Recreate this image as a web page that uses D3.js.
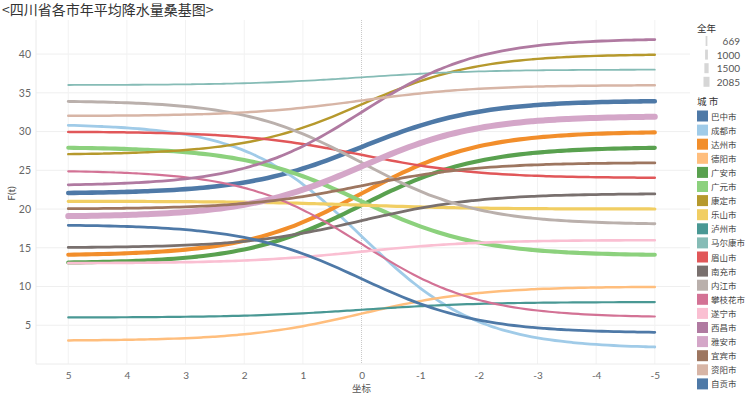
<!DOCTYPE html>
<html>
<head>
<meta charset="utf-8">
<script src="https://cdn.jsdelivr.net/npm/d3@7"></script>
<style>
  body { margin: 0; background: #fff; }
  svg { font-family: "Noto Sans CJK SC", "Noto Sans", sans-serif; }
</style>
</head>
<body>
<div id="chart"></div>
<script>
// DATA
const cities = ["巴中市","成都市","达州市","德阳市","广安市","广元市","康定市","乐山市","泸州市","马尔康市",
  "眉山市","南充市","内江市","攀枝花市","遂宁市","西昌市","雅安市","宜宾市","资阳市","自贡市"]
const startValue = [22, 31, 14, 3, 13, 28, 27, 21, 6, 36, 30, 15, 34, 25, 13, 23, 19, 20, 32, 18]
const endValue   = [34, 2, 30, 10, 28, 14, 40, 20, 8, 38, 24, 22, 18, 6, 16, 42, 32, 26, 36, 4]
const rainfall   = [1600, 1000, 1450, 900, 1450, 1450, 880, 1150, 800, 669,
  900, 1000, 1050, 800, 950, 1000, 2085, 1000, 900, 1000]
const cityColor = ["#4e79a7","#a0cbe8","#f28e2b","#ffbe7d","#59a14f","#8cd17d","#b6992d","#f1ce63","#499894","#86bcb6",
  "#e15759","#79706e","#bab0ac","#d37295","#fabfd2","#b07aa1","#d4a6c8","#9d7660","#d7b5a6","#4e79a7"]
const xTicks = [5, 4, 3, 2, 1, 0, -1, -2, -3, -4, -5]
const yTicks = [5, 10, 15, 20, 25, 30, 35, 40]
const sizeLegend = [669, 1000, 1500, 2085]

const width = 747, height = 397

// SCALES
const xScale = d3.scaleLinear().domain([5.55, -5.6]).range([36, 690])
const yScale = d3.scaleLinear().domain([0, 44.4]).range([364, 20])
const sizeScale = d3.scaleLinear().domain([669, 2085]).range([1.8, 6])
const colorScale = d3.scaleOrdinal().domain(cities).range(cityColor)

const svg = d3.select("#chart").append("svg")
    .attr("width", width)
    .attr("height", height)

// TITLE
svg.append("text")
    .attr("x", 2).attr("y", 15)
    .attr("font-size", 14)
    .attr("fill", "#333")
    .text("<四川省各市年平均降水量桑基图>")

// GRID
svg.append("g")
    .selectAll("line")
    .data(yTicks)
    .join("line")
    .attr("x1", 36).attr("x2", 690)
    .attr("y1", d => yScale(d)).attr("y2", d => yScale(d))
    .attr("stroke", "#efefef")

svg.append("g")
    .selectAll("line")
    .data(xTicks.filter(d => d !== 0))
    .join("line")
    .attr("x1", d => xScale(d)).attr("x2", d => xScale(d))
    .attr("y1", 20).attr("y2", yScale(0))
    .attr("stroke", "#f2f2f2")

svg.append("line")
    .attr("x1", 36).attr("x2", 36)
    .attr("y1", 20).attr("y2", yScale(0))
    .attr("stroke", "#eaeaea")

svg.append("line")
    .attr("x1", xScale(0)).attr("x2", xScale(0))
    .attr("y1", 20).attr("y2", yScale(0))
    .attr("stroke", "#c8c8c8")
    .attr("stroke-dasharray", "1,1")

svg.append("line")
    .attr("x1", 36).attr("x2", 690)
    .attr("y1", yScale(0)).attr("y2", yScale(0))
    .attr("stroke", "#ececec")

// AXES
const yAxis = svg.append("g")
    .attr("transform", "translate(36,0)")
    .call(d3.axisLeft(yScale).tickValues(yTicks).tickSize(0).tickPadding(5))
yAxis.select(".domain").remove()
yAxis.selectAll("text").attr("font-size", 10.5).attr("fill", "#666")
    .attr("font-family", "Lato, 'Noto Sans', sans-serif")

const xAxis = svg.append("g")
    .attr("transform", `translate(0,${yScale(0)})`)
    .call(d3.axisBottom(xScale).tickValues(xTicks).tickSize(0).tickPadding(8)
        .tickFormat(d => d < 0 ? "-" + Math.abs(d) : d))
xAxis.select(".domain").remove()
xAxis.selectAll("text").attr("font-size", 10).attr("fill", "#666")
    .attr("font-family", "Lato, 'Noto Sans', sans-serif")

svg.append("text")
    .attr("x", xScale(0)).attr("y", 392)
    .attr("text-anchor", "middle")
    .attr("font-size", 9.5).attr("fill", "#555")
    .text("坐标")

svg.append("text")
    .attr("transform", `translate(15,${yScale(22)}) rotate(-90)`)
    .attr("text-anchor", "middle")
    .attr("font-size", 10).attr("fill", "#444")
    .attr("font-family", "Lato, 'Noto Sans', sans-serif")
    .text("F(t)")

// LINKS: sigmoid sankey link from start value (t=5) to end value (t=-5)
const tSteps = d3.range(5, -5.001, -0.1)
const linkLine = d3.line()
    .x(p => xScale(p[0]))
    .y(p => yScale(p[1]))
    .curve(d3.curveBasis)

const links = cities.map((c, i) => ({
    city: c, a: startValue[i], b: endValue[i], rain: rainfall[i]
}))

svg.append("g")
    .selectAll("path")
    .data(links)
    .join("path")
    .attr("d", d => linkLine(tSteps.map(t => [t, d.a + (d.b - d.a) / (1 + Math.exp(t))])))
    .attr("fill", "none")
    .attr("stroke", d => colorScale(d.city))
    .attr("stroke-width", d => sizeScale(d.rain))
    .attr("stroke-linecap", "round")

// SIZE LEGEND
svg.append("text")
    .attr("x", 697).attr("y", 32)
    .attr("font-size", 9.5).attr("fill", "#333")
    .text("全年")

const sizeG = svg.append("g")
    .selectAll("g")
    .data(sizeLegend)
    .join("g")
    .attr("transform", (d, i) => `translate(0,${41 + i * 13.6})`)
sizeG.append("rect")
    .attr("x", d => 706.5 - sizeScale(d) / 2)
    .attr("y", -5)
    .attr("width", d => sizeScale(d))
    .attr("height", 10)
    .attr("fill", "#d6d6d6")
sizeG.append("text")
    .attr("x", 740).attr("y", 4)
    .attr("text-anchor", "end")
    .attr("font-size", 10).attr("fill", "#555")
    .attr("font-family", "Lato, 'Noto Sans', sans-serif")
    .text(d => d)

// COLOR LEGEND
svg.append("text")
    .attr("x", 697).attr("y", 105)
    .attr("font-size", 9.5).attr("fill", "#333")
    .text("城 市")

const colorG = svg.append("g")
    .selectAll("g")
    .data(cities)
    .join("g")
    .attr("transform", (d, i) => `translate(697,${116 + i * 14.1})`)
colorG.append("rect")
    .attr("x", 0).attr("y", -5.5)
    .attr("width", 11).attr("height", 11)
    .attr("fill", d => colorScale(d))
colorG.append("text")
    .attr("x", 14).attr("y", 3.5)
    .attr("font-size", 8.5).attr("fill", "#444")
    .text(d => d)
</script>
</body>
</html>
